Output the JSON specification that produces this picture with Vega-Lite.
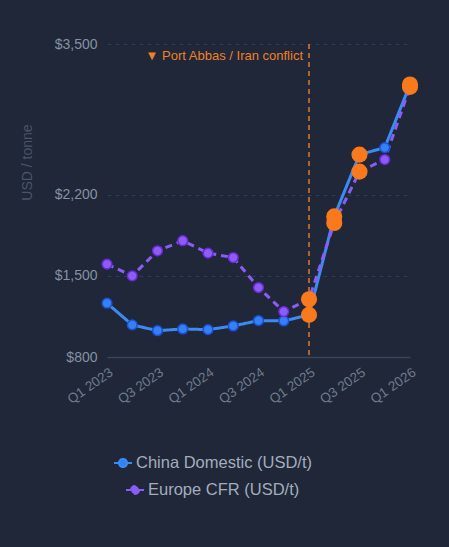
{
  "$schema": "https://vega.github.io/schema/vega-lite/v6.json",
  "width": 303,
  "height": 313,
  "autosize": "none",
  "padding": {"left": 107, "top": 44, "right": 39, "bottom": 190},
  "background": "#1f2738",
  "config": {
    "font": "Liberation Sans",
    "view": {"stroke": null},
    "axis": {"labelFont": "Liberation Sans", "titleFont": "Liberation Sans"},
    "legend": {"labelFont": "Liberation Sans"}
  },
  "data": {
    "values": [
      {"q": "Q1 2023", "series": "China Domestic (USD/t)", "value": 1264, "hl": false},
      {"q": "Q2 2023", "series": "China Domestic (USD/t)", "value": 1077, "hl": false},
      {"q": "Q3 2023", "series": "China Domestic (USD/t)", "value": 1027, "hl": false},
      {"q": "Q4 2023", "series": "China Domestic (USD/t)", "value": 1042, "hl": false},
      {"q": "Q1 2024", "series": "China Domestic (USD/t)", "value": 1036, "hl": false},
      {"q": "Q2 2024", "series": "China Domestic (USD/t)", "value": 1068, "hl": false},
      {"q": "Q3 2024", "series": "China Domestic (USD/t)", "value": 1114, "hl": false},
      {"q": "Q4 2024", "series": "China Domestic (USD/t)", "value": 1111, "hl": false},
      {"q": "Q1 2025", "series": "China Domestic (USD/t)", "value": 1163, "hl": true},
      {"q": "Q2 2025", "series": "China Domestic (USD/t)", "value": 2013, "hl": true},
      {"q": "Q3 2025", "series": "China Domestic (USD/t)", "value": 2546, "hl": true},
      {"q": "Q4 2025", "series": "China Domestic (USD/t)", "value": 2606, "hl": false},
      {"q": "Q1 2026", "series": "China Domestic (USD/t)", "value": 3150, "hl": true},
      {"q": "Q1 2023", "series": "Europe CFR (USD/t)", "value": 1601, "hl": false},
      {"q": "Q2 2023", "series": "Europe CFR (USD/t)", "value": 1500, "hl": false},
      {"q": "Q3 2023", "series": "Europe CFR (USD/t)", "value": 1716, "hl": false},
      {"q": "Q4 2023", "series": "Europe CFR (USD/t)", "value": 1803, "hl": false},
      {"q": "Q1 2024", "series": "Europe CFR (USD/t)", "value": 1696, "hl": false},
      {"q": "Q2 2024", "series": "Europe CFR (USD/t)", "value": 1658, "hl": false},
      {"q": "Q3 2024", "series": "Europe CFR (USD/t)", "value": 1399, "hl": false},
      {"q": "Q4 2024", "series": "Europe CFR (USD/t)", "value": 1192, "hl": false},
      {"q": "Q1 2025", "series": "Europe CFR (USD/t)", "value": 1298, "hl": true},
      {"q": "Q2 2025", "series": "Europe CFR (USD/t)", "value": 1956, "hl": true},
      {"q": "Q3 2025", "series": "Europe CFR (USD/t)", "value": 2399, "hl": true},
      {"q": "Q4 2025", "series": "Europe CFR (USD/t)", "value": 2503, "hl": false},
      {"q": "Q1 2026", "series": "Europe CFR (USD/t)", "value": 3130, "hl": true}
    ]
  },
  "encoding": {
    "x": {
      "field": "q",
      "type": "ordinal",
      "scale": {
        "type": "point",
        "padding": 0,
        "domain": ["Q1 2023", "Q2 2023", "Q3 2023", "Q4 2023", "Q1 2024", "Q2 2024", "Q3 2024", "Q4 2024", "Q1 2025", "Q2 2025", "Q3 2025", "Q4 2025", "Q1 2026"]
      },
      "axis": {
        "title": null,
        "values": ["Q1 2023", "Q3 2023", "Q1 2024", "Q3 2024", "Q1 2025", "Q3 2025", "Q1 2026"],
        "labelAngle": -35,
        "labelAlign": "right",
        "labelBaseline": "top",
        "labelFontSize": 13.5,
        "labelColor": "#6f7b8e",
        "labelPadding": 8,
        "ticks": false,
        "grid": false,
        "domain": true,
        "domainColor": "#3a4558",
        "domainWidth": 1.5
      }
    },
    "y": {
      "field": "value",
      "type": "quantitative",
      "scale": {"domain": [800, 3500], "nice": false, "zero": false},
      "axis": {
        "title": "USD / tonne",
        "titleColor": "#4a5568",
        "titleFontSize": 14,
        "titleFontWeight": "normal",
        "titleX": -80,
        "titleY": 118,
        "titleAngle": -90,
        "titleBaseline": "middle",
        "titleAlign": "center",
        "values": [800, 1500, 2200, 3500],
        "format": "$,.0f",
        "labelFontSize": 14,
        "labelColor": "#8691a3",
        "labelPadding": 10,
        "ticks": false,
        "domain": false,
        "grid": true,
        "gridColor": "#2e3b52",
        "gridDash": [4, 4],
        "gridWidth": 1
      }
    }
  },
  "layer": [
    {
      "data": {"values": [{"q": "Q1 2025"}]},
      "mark": {"type": "rule", "color": "#e07b2a", "strokeDash": [5, 4], "strokeWidth": 1.5},
      "encoding": {"y": null}
    },
    {
      "data": {"values": [{"q": "Q1 2025", "value": 3500, "label": "▼ Port Abbas / Iran conflict"}]},
      "mark": {"type": "text", "color": "#ee8126", "fontSize": 13, "align": "right", "baseline": "middle", "dx": -6, "dy": 12},
      "encoding": {"text": {"field": "label"}}
    },
    {
      "mark": {"type": "line", "strokeWidth": 3},
      "encoding": {
        "color": {
          "field": "series",
          "type": "nominal",
          "scale": {"domain": ["China Domestic (USD/t)", "Europe CFR (USD/t)"], "range": ["#3b8bf2", "#8b5cf6"]},
          "legend": {
            "title": null,
            "orient": "none",
            "legendX": 6,
            "legendY": 409,
            "direction": "vertical",
            "padding": 0,
            "rowPadding": 8,
            "labelFontSize": 16.5,
            "labelLimit": 400,
            "labelColor": "#a3adbd",
            "labelOffset": 3,
            "symbolType": "M-1,0L-0.45,0M0.45,0L1,0M0.45,0A0.45,0.45 0 1 1 -0.45,0A0.45,0.45 0 1 1 0.45,0",
            "symbolSize": 324,
            "symbolStrokeWidth": 2,
            "symbolFillColor": "#1f2738",
            "symbolDash": [1, 0],
            "encode": {
              "symbols": {"update": {"fill": {"value": "#1f2738"}, "fillOpacity": {"value": 1}, "strokeDash": {"value": [1, 0]}, "x": {"signal": "datum.value === 'Europe CFR (USD/t)' ? 22 : 10"}}},
              "labels": {"update": {"dx": {"signal": "datum.value === 'Europe CFR (USD/t)' ? 12 : 0"}}}
            }
          }
        },
        "strokeDash": {
          "field": "series",
          "type": "nominal",
          "scale": {"domain": ["China Domestic (USD/t)", "Europe CFR (USD/t)"], "range": [[1, 0], [7, 5]]},
          "legend": null
        }
      }
    },
    {
      "transform": [{"filter": "!datum.hl"}],
      "mark": {"type": "point", "filled": true, "size": 95, "strokeWidth": 1.5, "opacity": 1},
      "encoding": {
        "fill": {
          "field": "series",
          "type": "nominal",
          "scale": {"domain": ["China Domestic (USD/t)", "Europe CFR (USD/t)"], "range": ["#3480f5", "#8b5cf6"]},
          "legend": null
        },
        "stroke": {
          "field": "series",
          "type": "nominal",
          "scale": {"domain": ["China Domestic (USD/t)", "Europe CFR (USD/t)"], "range": ["#1d4ed8", "#6d28d9"]},
          "legend": null
        }
      }
    },
    {
      "transform": [{"filter": "datum.hl"}],
      "mark": {"type": "circle", "size": 260, "color": "#f97a1c", "opacity": 1}
    }
  ]
}
